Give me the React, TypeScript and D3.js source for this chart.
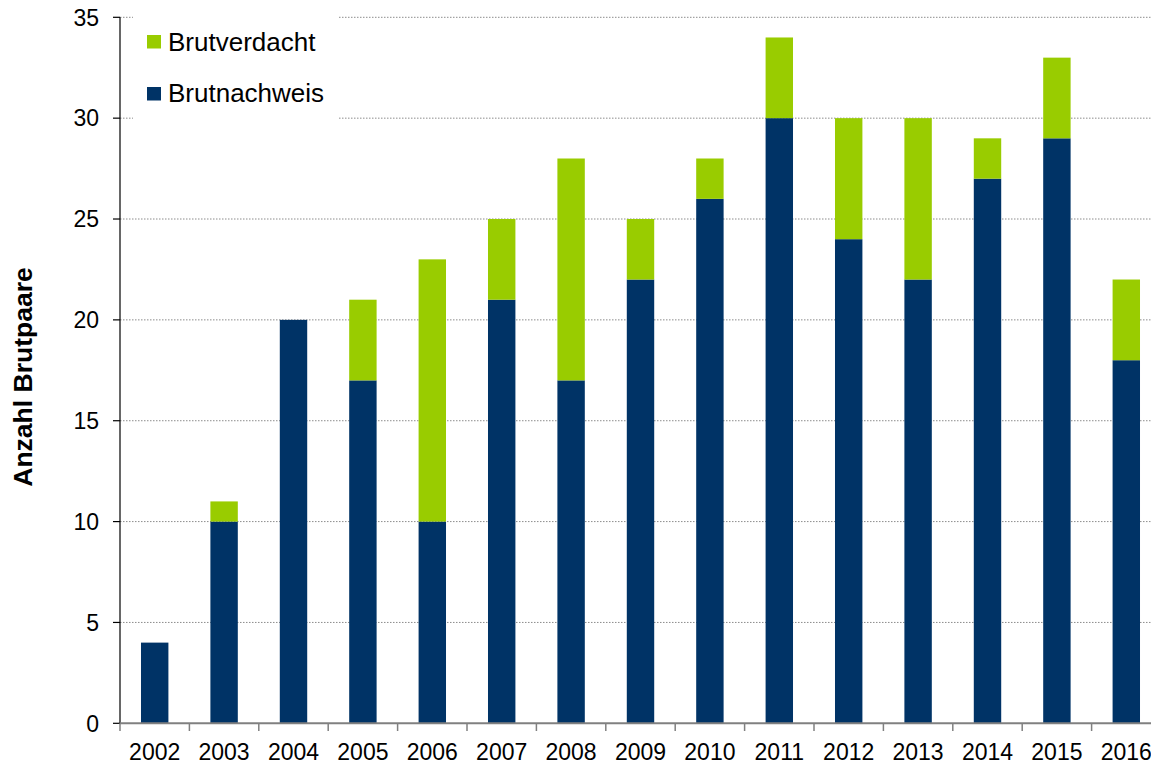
import React from "react";
import * as d3 from "d3";

const years = ["2002","2003","2004","2005","2006","2007","2008","2009","2010","2011","2012","2013","2014","2015","2016"];
const brutnachweis = [4,10,20,17,10,21,17,22,26,30,24,22,27,29,18];
const brutverdacht = [0,1,0,4,13,4,11,3,2,4,6,8,2,4,4];
const yTicks = [0,5,10,15,20,25,30,35];
const seriesNames = ["Brutverdacht","Brutnachweis"];
const colors = ["#99CC00","#003366"];

const W = 1151, H = 767;
const left = 120, right = 1161, y0 = 723.3, yTop = 17.3;
const font = "'Liberation Sans', Arial, Helvetica, sans-serif";

export default function App() {
  const x = d3.scaleBand<string>().domain(years).range([left, right]).padding(0);
  const y = d3.scaleLinear().domain([0, 35]).range([y0, yTop]);
  const bw = x.bandwidth() * 0.395;
  const stacked = d3.stack<any>().keys(["n","v"])(years.map((yr,i)=>({yr, n: brutnachweis[i], v: brutverdacht[i]})));
  const fillFor = (k: string) => k === "n" ? colors[1] : colors[0];
  return (
    <svg width={W} height={H} style={{position:"absolute", left:0, top:0, display:"block", background:"#fff"}} fontFamily={font}>
      {yTicks.filter(t=>t>0).map(t => (
        <line key={"g"+t} x1={left} x2={W} y1={y(t)} y2={y(t)} stroke="#8c8c8c" strokeWidth={1} strokeDasharray="1.5,1.5" />
      ))}
      {stacked.map(layer => layer.map((d, i) => (
        d[1] - d[0] > 0 ? (
          <rect key={layer.key + i} x={(x(years[i]) as number) + x.bandwidth()/2 - bw/2} y={y(d[1])} width={bw} height={y(d[0]) - y(d[1])} fill={fillFor(layer.key)} />
        ) : null
      )))}
      {/* legend box */}
      <rect x={133} y={6} width={205} height={120} fill="#fff" />
      {seriesNames.map((s, i) => (
        <g key={s}>
          <rect x={147} y={35 + i*52} width={14} height={13.5} fill={colors[i]} />
          <text x={168} y={50.5 + i*51.5} fontSize={26} fill="#000">{s}</text>
        </g>
      ))}
      {/* y axis */}
      <line x1={left} x2={left} y1={yTop} y2={y0} stroke="#000" strokeWidth={1.2} />
      {yTicks.map(t => (
        <g key={"y"+t}>
          <line x1={113} x2={left} y1={y(t)} y2={y(t)} stroke="#000" strokeWidth={1.2} />
          <text x={99} y={y(t)} dy="0.36em" textAnchor="end" fontSize={23} fill="#000">{t}</text>
        </g>
      ))}
      {/* x axis */}
      <line x1={left} x2={W} y1={y0} y2={y0} stroke="#808080" strokeWidth={2} />
      {years.map((yr, i) => (
        <g key={"x"+yr}>
          <line x1={(x(yr) as number)} x2={(x(yr) as number)} y1={y0} y2={731} stroke="#808080" strokeWidth={1.5} />
          <text x={(x(yr) as number) + x.bandwidth()/2} y={760} textAnchor="middle" fontSize={23} fill="#000">{yr}</text>
        </g>
      ))}
      <text transform={`translate(32,377) rotate(-90)`} textAnchor="middle" fontSize={26.5} fontWeight="bold" fill="#000">Anzahl Brutpaare</text>
    </svg>
  );
}
